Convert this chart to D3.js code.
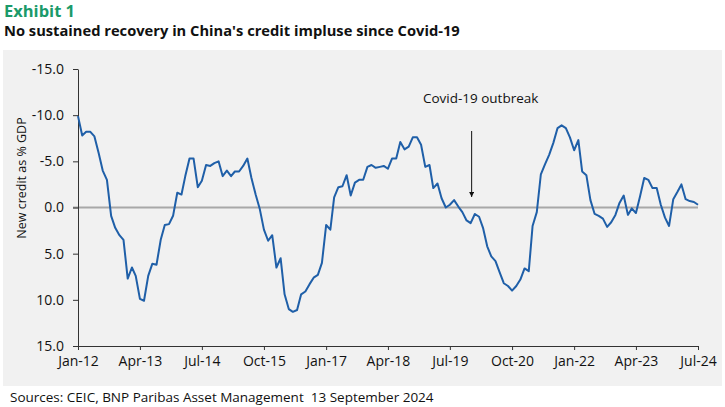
<!DOCTYPE html>
<html lang="en">
<head>
<meta charset="UTF-8">
<title>China credit impulse</title>
<script src="https://d3js.org/d3.v7.min.js"></script>
<style>
  body { margin: 0; background: #fff; }
  text { font-family: "Open Sans", sans-serif; }
</style>
</head>
<body>
<svg width="725" height="407"></svg>
<script>
// monthly values, Jan-12 .. Jul-24 (new credit as % GDP)
const startMonth = new Date(2012, 0, 1);
const creditImpulse = [
  -9.9, -7.8, -8.2, -8.2, -7.7, -5.9, -4.0, -3.0, 0.9, 2.2, 3.0, 3.5,
  7.7, 6.5, 7.4, 9.9, 10.1, 7.4, 6.1, 6.2, 3.5, 1.9, 1.8, 0.9,
  -1.6, -1.4, -3.4, -5.3, -5.3, -2.2, -2.9, -4.6, -4.5, -4.8, -5.0, -3.4,
  -4.0, -3.4, -3.9, -3.9, -4.5, -5.3, -3.2, -1.4, 0.2, 2.4, 3.6, 3.0,
  6.5, 5.5, 9.4, 11.0, 11.3, 11.1, 9.4, 9.1, 8.3, 7.6, 7.3, 6.0,
  1.9, 2.4, -1.1, -2.2, -2.3, -3.5, -1.3, -2.7, -3.0, -3.0, -4.4, -4.6,
  -4.3, -4.4, -4.5, -4.2, -5.3, -5.3, -7.1, -6.3, -6.6, -7.6, -7.6, -6.8,
  -4.4, -4.6, -2.1, -2.6, -1.0, 0.0, -0.3, -0.8, -0.1, 0.5, 1.4, 1.7,
  0.7, 1.0, 2.2, 4.2, 5.3, 5.8, 7.0, 8.2, 8.5, 9.0, 8.5, 7.8,
  6.6, 6.9, 2.0, 0.5, -3.6, -4.7, -5.7, -7.0, -8.6, -8.9, -8.6, -7.6,
  -6.2, -7.3, -3.9, -3.5, -0.8, 0.7, 0.9, 1.2, 2.1, 1.6, 0.8, -0.5,
  -1.3, 0.8, 0.1, 0.6, -1.2, -3.2, -3.0, -2.1, -2.1, -0.3, 1.1, 2.0,
  -0.9, -1.7, -2.5, -0.9, -0.7, -0.6, -0.3
];
const yTicks = [-15, -10, -5, 0, 5, 10, 15];
const xTickLabels = ["Jan-12", "Apr-13", "Jul-14", "Oct-15", "Jan-17", "Apr-18", "Jul-19", "Oct-20", "Jan-22", "Apr-23", "Jul-24"];
const covidMonth = new Date(2019, 11, 1);

const data = creditImpulse.map((v, i) => ({ date: d3.timeMonth.offset(startMonth, i), value: v }));
const xTickDates = xTickLabels.map((_, i) => d3.timeMonth.offset(startMonth, i * 15));

const svg = d3.select("svg");

// titles
svg.append("text").attr("x", 4).attr("y", 17)
  .style("font-size", "16.5px").style("font-weight", 700).attr("fill", "#1b9a6a")
  .text("Exhibit 1");
svg.append("text").attr("x", 4).attr("y", 36)
  .style("font-size", "14.7px").style("font-weight", 700).attr("fill", "#111")
  .text("No sustained recovery in China's credit impluse since Covid-19");

// grey panel
svg.append("rect").attr("x", 3).attr("y", 50).attr("width", 719).attr("height", 336).attr("fill", "#f1f1f1");

const x = d3.scaleTime().domain([startMonth, d3.timeMonth.offset(startMonth, 150)]).range([78, 698]);
const y = d3.scaleLinear().domain([-15, 15]).range([69, 346]);

// zero line
svg.append("line").attr("x1", 73).attr("x2", 698).attr("y1", y(0)).attr("y2", y(0))
  .attr("stroke", "#a8a8a8").attr("stroke-width", 2);

// y axis (plain hyphen for negatives, as in the source)
const yAxis = svg.append("g").attr("transform", "translate(78,0)")
  .call(d3.axisLeft(y).tickValues(yTicks).tickFormat(d => d.toFixed(1)).tickSize(5).tickSizeOuter(0));
// x axis
const xAxis = svg.append("g").attr("transform", `translate(0,${y(15)})`)
  .call(d3.axisBottom(x).tickValues(xTickDates).tickFormat((d, i) => xTickLabels[i]).tickSize(4).tickSizeOuter(0));

[yAxis, xAxis].forEach(a => {
  a.selectAll(".domain, line").attr("stroke", "#333");
  a.selectAll("text").style("font-size", "14px").attr("fill", "#111");
});
yAxis.selectAll("text").attr("x", -14);
xAxis.selectAll("text").attr("y", 10);

svg.append("text")
  .attr("transform", "translate(26,178) rotate(-90)")
  .attr("text-anchor", "middle")
  .style("font-size", "12.5px").attr("fill", "#111")
  .text("New credit as % GDP");

// series
svg.append("path").datum(data)
  .attr("fill", "none").attr("stroke", "#1f5fa8").attr("stroke-width", 2)
  .attr("stroke-linejoin", "round")
  .attr("d", d3.line().x(d => x(d.date)).y(d => y(d.value)));

// covid annotation
svg.append("defs").append("marker")
  .attr("id", "arrow").attr("viewBox", "0 0 10 10").attr("refX", 10).attr("refY", 5)
  .attr("markerWidth", 5).attr("markerHeight", 5).attr("orient", "auto")
  .append("path").attr("d", "M0,0L10,5L0,10z").attr("fill", "#111");
svg.append("line")
  .attr("x1", x(covidMonth) + 1).attr("x2", x(covidMonth) + 1)
  .attr("y1", 131).attr("y2", 197)
  .attr("stroke", "#111").attr("stroke-width", 1).attr("marker-end", "url(#arrow)");
svg.append("text").attr("x", x(covidMonth) + 10).attr("y", 103)
  .attr("text-anchor", "middle").style("font-size", "13.5px").attr("fill", "#111")
  .text("Covid-19 outbreak");

// source
svg.append("text").attr("x", 10).attr("y", 402)
  .style("font-size", "13.5px").style("white-space", "pre").attr("fill", "#111")
  .text("Sources: CEIC, BNP Paribas Asset Management  13 September 2024");
</script>
</body>
</html>
